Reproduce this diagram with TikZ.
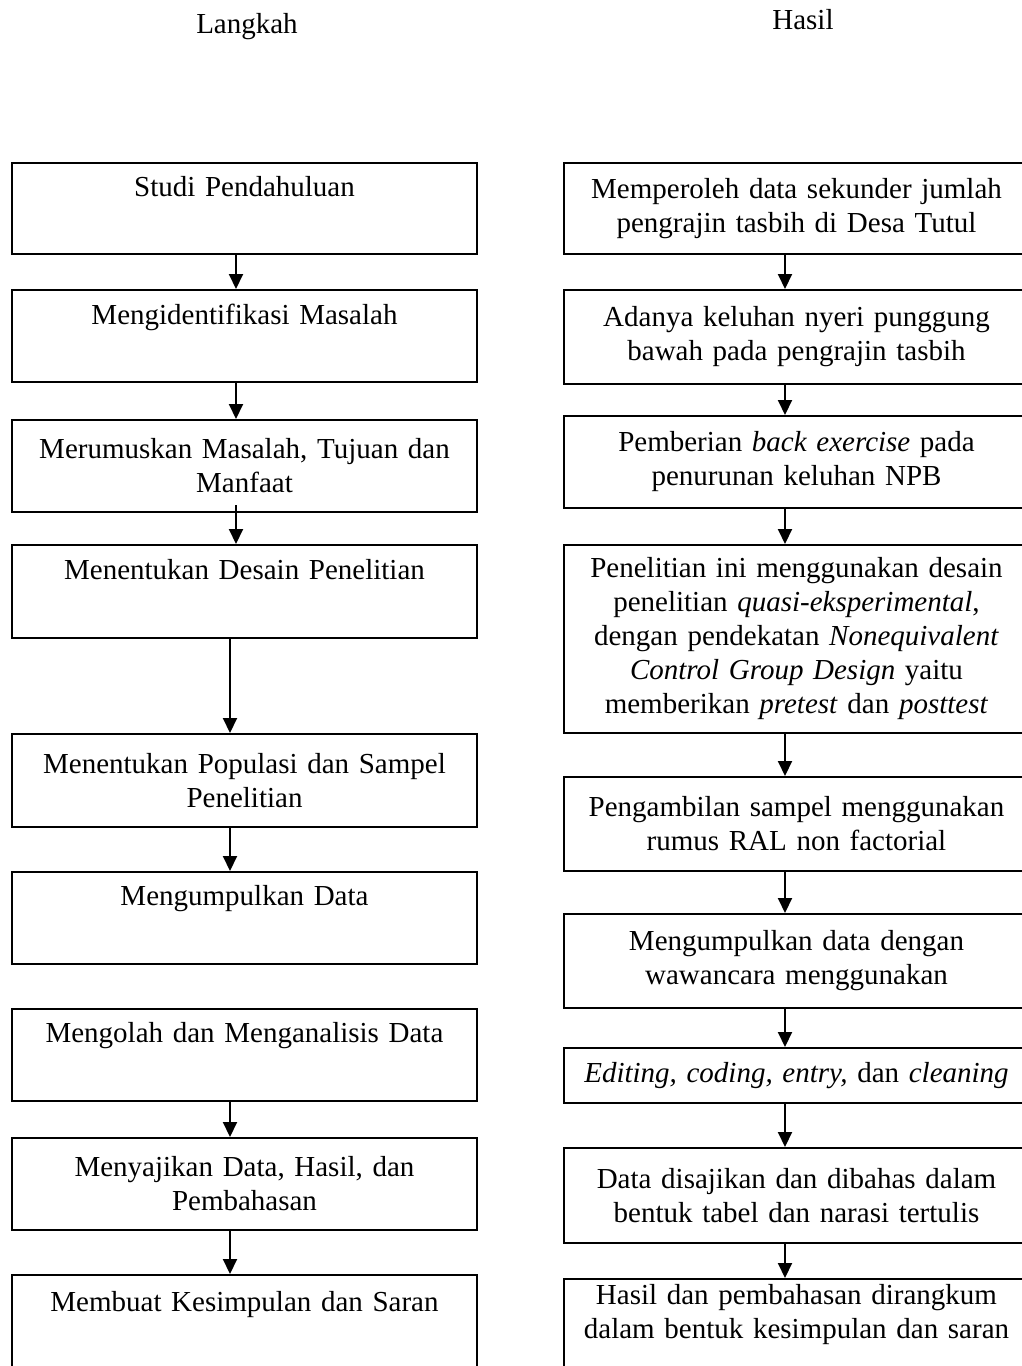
\documentclass[tikz,border=0pt]{standalone}
\usepackage{fontspec}
\setmainfont{Liberation Serif}
\usepackage{tikz}
\usetikzlibrary{arrows.meta}

\begin{document}
\begin{tikzpicture}[x=1pt, y=-1pt]
        % Setup the style for the boxes
        \tikzset{box style/.style={draw,
                                   line width=2pt,
                                   anchor=north,
                                   minimum width=465pt,
                                   text width=465pt,
                                   inner xsep=0pt,
                                   inner ysep=0pt,
                                   align=center,
                                   font=\fontsize{29}{34}\selectfont},
                 head style/.style={anchor=base,
                                    font=\fontsize{29}{34}\selectfont}}

        \useasboundingbox (0,0) rectangle (1022,1366);

        % Column titles
        \node[head style] (langkah) at (247,33) {Langkah};
        \node[head style] (hasil)   at (803,29) {Hasil};

        % Draw the steps (left)
        \node[box style, minimum height=91pt] at (244.5,162)  (l1) {Studi Pendahuluan\\\strut};
        \node[box style, minimum height=92pt] at (244.5,289)  (l2) {Mengidentifikasi Masalah\\\strut};
        \node[box style, minimum height=92pt] at (244.5,419)  (l3) {Merumuskan Masalah, Tujuan dan\\Manfaat};
        \node[box style, minimum height=93pt] at (244.5,544)  (l4) {Menentukan Desain Penelitian\\\strut};
        \node[box style, minimum height=93pt] at (244.5,733)  (l5) {Menentukan Populasi dan Sampel\\Penelitian};
        \node[box style, minimum height=92pt] at (244.5,871)  (l6) {Mengumpulkan Data\\\strut};
        \node[box style, minimum height=92pt] at (244.5,1008) (l7) {Mengolah dan Menganalisis Data\\\strut};
        \node[box style, minimum height=92pt] at (244.5,1137) (l8) {Menyajikan Data, Hasil, dan\\Pembahasan};
        \node[box style, minimum height=98pt] at (244.5,1274) (l9) {Membuat Kesimpulan dan Saran\\\strut};

        % Draw the results (right)
        \node[box style, minimum height=91pt]  at (796.5,162)  (r1) {Memperoleh data sekunder jumlah\\pengrajin tasbih di Desa Tutul};
        \node[box style, minimum height=94pt]  at (796.5,289)  (r2) {Adanya keluhan nyeri punggung\\bawah pada pengrajin tasbih};
        \node[box style, minimum height=92pt]  at (796.5,415)  (r3) {Pemberian \textit{back exercise} pada\\penurunan keluhan NPB};
        \node[box style, minimum height=188pt] at (796.5,544)  (r4) {Penelitian ini menggunakan desain\\penelitian \textit{quasi-eksperimental},\\dengan pendekatan \textit{Nonequivalent}\\\textit{Control Group Design} yaitu\\memberikan \textit{pretest} dan \textit{posttest}};
        \node[box style, minimum height=94pt]  at (796.5,776)  (r5) {Pengambilan sampel menggunakan\\rumus RAL non factorial};
        \node[box style, minimum height=94pt]  at (796.5,913)  (r6) {Mengumpulkan data dengan\\wawancara menggunakan};
        \node[box style, minimum height=55pt]  at (796.5,1047) (r7) {\textit{Editing, coding, entry,} dan \textit{cleaning}};
        \node[box style, minimum height=95pt]  at (796.5,1147) (r8) {Data disajikan dan dibahas dalam\\bentuk tabel dan narasi tertulis};
        \node[box style, minimum height=110pt] at (796.5,1278) (r9) {Hasil dan pembahasan dirangkum\\dalam bentuk kesimpulan dan saran\\\strut};

        % Connect the boxes with arrows
        \path[line width=2pt,
              >={Triangle[length=15pt,width=14pt]},
              every edge/.append style={->}]
            ([xshift=-8.5pt]l1.south)            edge ([xshift=-8.5pt]l2.north)
            ([xshift=-8.5pt]l2.south)            edge ([xshift=-8.5pt]l3.north)
            ([xshift=-8.5pt,yshift=8pt]l3.south) edge ([xshift=-8.5pt]l4.north)
            ([xshift=-14.5pt]l4.south)           edge ([xshift=-14.5pt]l5.north)
            ([xshift=-14.5pt]l5.south)           edge ([xshift=-14.5pt]l6.north)
            ([xshift=-14.5pt]l7.south)           edge ([xshift=-14.5pt]l8.north)
            ([xshift=-14.5pt]l8.south)           edge ([xshift=-14.5pt]l9.north)
            ([xshift=-11.5pt]r1.south)           edge ([xshift=-11.5pt]r2.north)
            ([xshift=-11.5pt]r2.south)           edge ([xshift=-11.5pt]r3.north)
            ([xshift=-11.5pt]r3.south)           edge ([xshift=-11.5pt]r4.north)
            ([xshift=-11.5pt]r4.south)           edge ([xshift=-11.5pt]r5.north)
            ([xshift=-11.5pt]r5.south)           edge ([xshift=-11.5pt]r6.north)
            ([xshift=-11.5pt]r6.south)           edge ([xshift=-11.5pt]r7.north)
            ([xshift=-11.5pt]r7.south)           edge ([xshift=-11.5pt]r8.north)
            ([xshift=-11.5pt]r8.south)           edge ([xshift=-11.5pt]r9.north);
\end{tikzpicture}
\end{document}
